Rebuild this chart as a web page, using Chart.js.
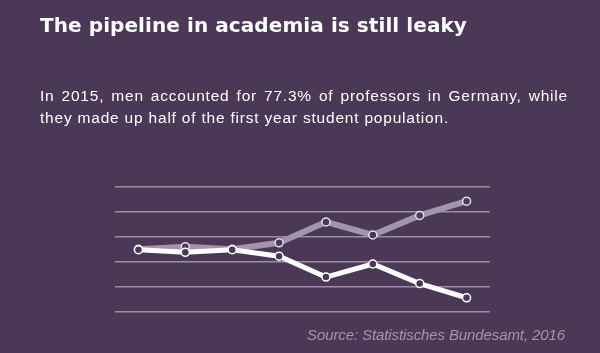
<!DOCTYPE html>
<html>
<head>
<meta charset="utf-8">
<script src="https://cdn.jsdelivr.net/npm/chart.js@4/dist/chart.umd.min.js"></script>
<style>
  html, body { margin: 0; padding: 0; }
  body { width: 600px; height: 353px; background: #4a3856; position: relative; overflow: hidden; font-family: "Liberation Sans", Arial, sans-serif; }
  .t { position: absolute; white-space: nowrap; }
  #title { left: 40px; top: 15px; color: #fff; font-family: "DejaVu Sans", sans-serif; font-weight: bold; font-size: 20px; line-height: 20px; }
  #sub1, #sub2 { left: 40px; color: #fff; font-size: 15.5px; line-height: 15.5px; }
  #sub1 { top: 87.6px; }
  #sub2 { top: 109.6px; }
  #src { left: 307px; top: 327px; color: #a595ae; font-style: italic; font-size: 15px; line-height: 15px; }
  #wrap { position: absolute; left: 0; top: 0; width: 600px; height: 353px; }
</style>
</head>
<body>
<div id="wrap"><canvas id="c"></canvas></div>
<div class="t" id="title">The pipeline in academia is still leaky</div>
<div class="t" id="sub1">In 2015, men accounted for 77.3% of professors in Germany, while</div>
<div class="t" id="sub2">they made up half of the first year student population.</div>
<div class="t" id="src">Source: Statistisches Bundesamt, 2016</div>
<script>
const stages = ["First-year students", "Students", "Graduates", "Doctorates", "Habilitations", "Junior professors", "Lecturers", "Professors"];
const men = [50.1, 51.6, 50.1, 53.8, 65.6, 58.2, 69.3, 77.3];
const women = [49.9, 48.4, 49.9, 46.2, 34.4, 41.8, 30.7, 22.7];
const gridValues = [14.65, 28.79, 42.93, 57.07, 71.21, 85.35];

function fitLetters(el, target) {
  el.style.letterSpacing = "0px";
  const w = el.getBoundingClientRect().width;
  const n = el.textContent.length;
  const ls = (target - w) / n;
  el.style.letterSpacing = ls + "px";
  return ls;
}
function fitWords(el, target, ls) {
  el.style.letterSpacing = ls + "px";
  el.style.wordSpacing = "0px";
  const w = el.getBoundingClientRect().width;
  const n = (el.textContent.match(/ /g) || []).length;
  el.style.wordSpacing = ((target - w) / n) + "px";
}
fitLetters(document.getElementById("title"), 427);
const ls2 = fitLetters(document.getElementById("sub2"), 409);
fitWords(document.getElementById("sub1"), 528, ls2);
fitLetters(document.getElementById("src"), 258);

const bg = "#4a3856";
new Chart(document.getElementById("c"), {
  type: "line",
  data: {
    labels: stages,
    datasets: [
      { label: "Women", data: women, borderColor: "#ffffff", borderWidth: 5, pointRadius: 4, pointBorderWidth: 1.5, pointBackgroundColor: bg, pointBorderColor: "#ffffff", tension: 0 },
      { label: "Men", data: men, borderColor: "#a393ab", borderWidth: 6, pointRadius: 4, pointBorderWidth: 1.5, pointBackgroundColor: bg, pointBorderColor: "#e6dfe9", tension: 0 }
    ]
  },
  options: {
    responsive: true,
    maintainAspectRatio: false,
    animation: false,
    layout: { padding: { left: 115, right: 110, top: 187, bottom: 41 } },
    plugins: { legend: { display: false }, tooltip: { enabled: false } },
    scales: {
      x: { display: false, offset: true },
      y: {
        min: gridValues[0], max: gridValues[gridValues.length - 1],
        afterBuildTicks: (s) => { s.ticks = gridValues.map(v => ({ value: v })); },
        ticks: { display: false },
        border: { display: false },
        grid: { color: "#9c8ca6", lineWidth: 1.5, drawTicks: false }
      }
    }
  }
});
</script>
</body>
</html>
